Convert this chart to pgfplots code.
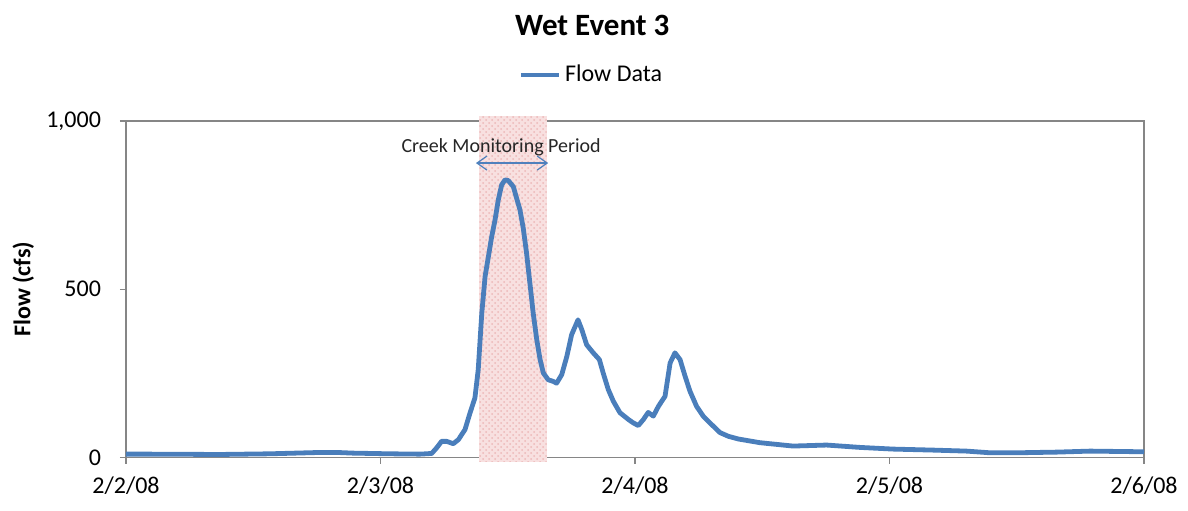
\documentclass[border=0pt]{standalone}
\usepackage{fontspec}
\setmainfont{Carlito}
\usepackage{pgfplots}
\pgfplotsset{compat=1.18}
\usetikzlibrary{arrows.meta,patterns}

\definecolor{flowblue}{RGB}{74,126,187}
\definecolor{arrowblue}{RGB}{79,129,189}
\definecolor{axgray}{RGB}{134,134,134}
\definecolor{bandpink}{RGB}{248,224,224}
\definecolor{dotpink}{RGB}{236,184,184}

\begin{document}
\begin{tikzpicture}
\useasboundingbox (0,0) rectangle (594pt,255pt);
\begin{axis}[
    at={(63pt,26.25pt)}, anchor=south west,
    scale only axis,
    width=509pt, height=168.25pt,
    xmin=0, xmax=4,
    ymin=0, ymax=1000,
    xtick={0,1,2,3,4},
    xticklabels={2/2/08,2/3/08,2/4/08,2/5/08,2/6/08},
    ytick={0,500,1000},
    tick align=outside,
    tick pos=left,
    major tick length=3pt,
    tick style={axgray, line width=0.7pt},
    axis line style={axgray, line width=0.7pt},
    /pgf/number format/.cd, 1000 sep={,}, assume math mode=true,
    /pgfplots/.cd,
    ticklabel style={font=\fontsize{12}{14}\selectfont},
    yticklabel style={xshift=-6pt},
    xticklabel style={yshift=-3pt},
    ylabel={Flow (cfs)},
    every axis y label/.style={at={(axis description cs:-0.101,0.5)}, rotate=90,
        anchor=center, font=\fontsize{12}{14}\selectfont\bfseries},
    title={Wet Event 3},
    every axis title/.style={at={(axis description cs:0.458,1.285)}, anchor=center,
        font=\fontsize{15.5}{18}\selectfont\bfseries},
    legend style={draw=none, fill=none, at={(0.458,1.137)}, anchor=center,
        font=\fontsize{12}{14}\selectfont, inner sep=1pt},
    legend image code/.code={\draw[#1] (0pt,0pt) -- (19pt,0pt);},
    clip=false,
]
\fill[bandpink] (axis cs:1.388,-13) rectangle (axis cs:1.653,1015);
\fill[pattern=crosshatch dots, pattern color=dotpink] (axis cs:1.388,-13) rectangle (axis cs:1.653,1015);

\addplot[color=flowblue, line width=2.4pt, line join=round]
coordinates{
(0.000,10)(0.094,10)(0.369,9)(0.566,11)(0.762,15)(0.829,15)(0.892,13)
(1.037,11)(1.155,10)(1.201,12)(1.221,29)(1.240,48)(1.260,48)(1.286,41)
(1.306,53)(1.332,83)(1.352,133)(1.371,177)(1.384,261)(1.398,429)(1.411,538)
(1.424,597)(1.437,657)(1.450,706)(1.463,766)(1.476,810)(1.489,825)(1.502,823)
(1.522,805)(1.535,770)(1.548,736)(1.561,681)(1.574,607)(1.587,518)(1.600,429)
(1.614,350)(1.627,291)(1.640,251)(1.659,231)(1.679,226)(1.692,221)(1.712,246)
(1.732,300)(1.751,365)(1.776,409)(1.791,380)(1.810,335)(1.836,311)(1.860,291)
(1.875,251)(1.895,202)(1.915,167)(1.941,133)(1.974,113)(1.993,103)(2.013,95)
(2.033,113)(2.052,134)(2.072,123)(2.092,152)(2.118,182)(2.138,281)(2.157,311)
(2.177,291)(2.197,241)(2.216,197)(2.242,152)(2.268,123)(2.301,98)(2.334,74)
(2.367,63)(2.406,55)(2.491,44)(2.621,34)(2.753,37)(2.884,30)(3.014,25)
(3.171,22)(3.303,19)(3.395,14)(3.500,14)(3.657,16)(3.788,19)(4.000,17)
};
\addlegendentry{Flow Data}

\draw[arrowblue, line width=0.6pt, {Straight Barb[length=5pt,width=7pt]}-{Straight Barb[length=5pt,width=7pt]}]
    (axis cs:1.375,875) -- (axis cs:1.659,875);
\node[font=\fontsize{10}{12}\selectfont, text=black!85] at (axis cs:1.474,923) {Creek Monitoring Period};
\end{axis}
\end{tikzpicture}
\end{document}
